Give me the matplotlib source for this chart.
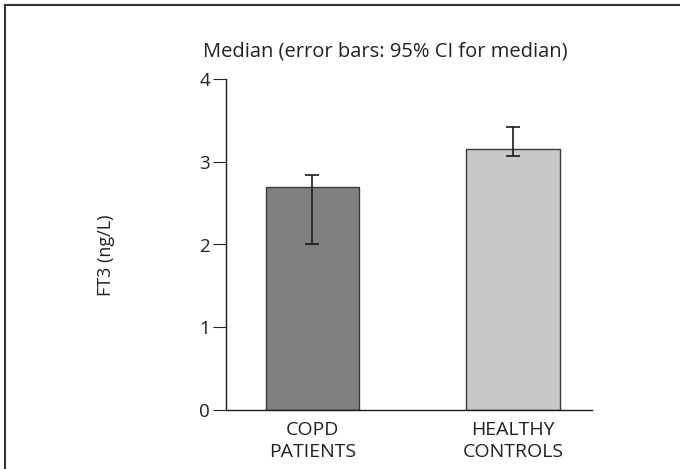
import matplotlib
matplotlib.use("Agg")
import matplotlib.pyplot as plt
from matplotlib.lines import Line2D

categories = ["COPD\nPATIENTS", "HEALTHY\nCONTROLS"]
medians = [2.70, 3.15]
ci_low = [2.00, 3.07]
ci_high = [2.84, 3.42]
bar_colors = ["#808083", "#c8c8ca"]
yticks = [0, 1, 2, 3, 4]

plt.rcParams['font.family'] = ['Open Sans', 'DejaVu Sans']

fig = plt.figure(figsize=(6.8, 4.69), dpi=100)
W, H = 680, 469
ax = fig.add_axes([226 / W, 1 - 410 / H, (592 - 226) / W, (410 - 79) / H])

x = list(range(len(categories)))
yerr = [[m - l for m, l in zip(medians, ci_low)], [h - m for m, h in zip(medians, ci_high)]]
ax.bar(x, medians, width=0.464, color=bar_colors, edgecolor="#3a3a3a", linewidth=1.0, zorder=2)
ax.errorbar(x, medians, yerr=yerr, fmt="none", ecolor="#1a1a1a", elinewidth=1.2,
            capsize=5.3, capthick=1.2, zorder=3)

ax.set_xlim(-0.431, 1.394)
ax.set_ylim(0, 4)
ax.set_yticks(yticks)
ax.set_yticklabels([str(t) for t in yticks])
ax.set_xticks(x)
ax.set_xticklabels(categories, linespacing=1.3)
ax.tick_params(axis="y", direction="out", length=9.5, width=0.8, pad=2, labelsize=13.5, colors="#222222")
ax.tick_params(axis="x", length=0, pad=8, labelsize=14, colors="#222222")
for s in ["top", "right"]:
    ax.spines[s].set_visible(False)
for s in ["left", "bottom"]:
    ax.spines[s].set_linewidth(1.0)
    ax.spines[s].set_color("#1a1a1a")

fig.text(106 / W, 1 - 255 / H, "FT3 (ng/L)", rotation=90, ha="center", va="center",
         fontsize=13, color="#222222")
fig.text(385 / W, 1 - 51 / H, "Median (error bars: 95% CI for median)", ha="center", va="center",
         fontsize=14.5, color="#222222")

# partial frame: top and left lines
fig.add_artist(Line2D([5 / W, 5 / W], [0, 1 - 5 / H], transform=fig.transFigure, color="#333333", linewidth=1.5))
fig.add_artist(Line2D([5 / W, 1], [1 - 5 / H, 1 - 5 / H], transform=fig.transFigure, color="#333333", linewidth=1.5))

fig.savefig("out.png", dpi=100)
